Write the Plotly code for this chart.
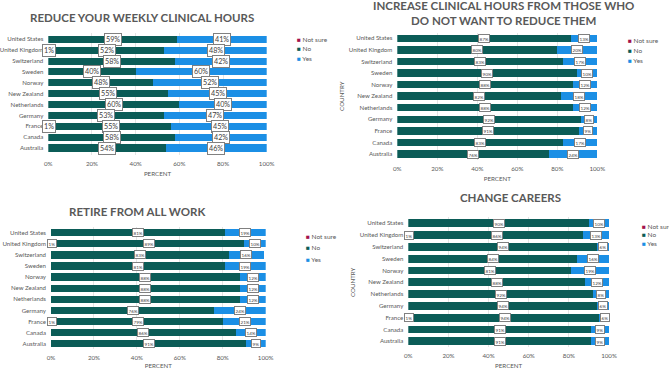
import plotly.graph_objects as go

countries = ["United States", "United Kingdom", "Switzerland", "Sweden", "Norway",
             "New Zealand", "Netherlands", "Germany", "France", "Canada", "Australia"]
series_names = ["Not sure", "No", "Yes"]
tick_vals = [0, 20, 40, 60, 80, 100]
tick_text = ["0%", "20%", "40%", "60%", "80%", "100%"]

reduce_notsure = [0, 1, 0, 0, 0, 0, 0, 0, 1, 0, 0]
reduce_no = [59, 52, 58, 40, 48, 55, 60, 53, 55, 58, 54]
reduce_yes = [41, 48, 42, 60, 52, 45, 40, 47, 45, 42, 46]

increase_notsure = [0, 0, 0, 0, 0, 0, 0, 0, 0, 0, 0]
increase_no = [87, 80, 83, 90, 88, 82, 88, 92, 91, 83, 76]
increase_yes = [13, 20, 17, 10, 12, 18, 12, 8, 9, 17, 24]

retire_notsure = [0, 1, 0, 0, 0, 0, 0, 0, 1, 0, 0]
retire_no = [81, 89, 83, 81, 88, 88, 88, 76, 79, 86, 91]
retire_yes = [19, 10, 16, 19, 12, 12, 12, 24, 21, 14, 9]

careers_notsure = [0, 1, 0, 0, 0, 0, 0, 0, 1, 0, 0]
careers_no = [90, 86, 94, 84, 81, 88, 92, 94, 94, 91, 91]
careers_yes = [10, 13, 6, 16, 19, 12, 8, 6, 6, 9, 9]

titles = ["REDUCE YOUR WEEKLY CLINICAL HOURS",
          "INCREASE CLINICAL HOURS FROM THOSE WHO<br>DO NOT WANT TO REDUCE THEM",
          "RETIRE FROM ALL WORK",
          "CHANGE CAREERS"]

COLORS = {"Not sure": "#a3124d", "No": "#0b5c57", "Yes": "#1b8fe5"}
GRAY = "#595959"
FONT = "Lato"
W, H = 669, 369

panels = [
    dict(data=[reduce_notsure, reduce_no, reduce_yes], x=(48.3, 266.7), y=(32.8, 154.5),
         title=(142, 17), leg=(295, 39.3, 9.5), lab=7.2, country=False),
    dict(data=[increase_notsure, increase_no, increase_yes], x=(397.3, 597.3), y=(32.5, 159.8),
         title=(503, 13), leg=(626, 40.3, 9.9), lab=4.6, country=True),
    dict(data=[retire_notsure, retire_no, retire_yes], x=(51, 265.7), y=(227.2, 349.2),
         title=(137, 211.7), leg=(304, 236, 11.7), lab=4.6, country=False),
    dict(data=[careers_notsure, careers_no, careers_yes], x=(408.3, 609), y=(217.4, 347.2),
         title=(511, 197.7), leg=(640, 226.3, 8.4), lab=4.6, country=True),
]

fig = go.Figure()
annotations = []
layout = {}
for i, p in enumerate(panels):
    n = i + 1
    sfx = "" if n == 1 else str(n)
    xa, ya = "x" + sfx, "y" + sfx
    for name, vals in zip(series_names, p["data"]):
        fig.add_trace(go.Bar(y=countries, x=vals, orientation="h", name=name,
                             marker=dict(color=COLORS[name], line=dict(width=0)),
                             xaxis=xa, yaxis=ya, showlegend=False))
    # data labels
    for j, c in enumerate(countries):
        start = 0
        for vals in p["data"]:
            v = vals[j]
            if v > 0:
                annotations.append(dict(
                    x=start + v / 2, y=c, xref=xa, yref=ya, text=f"{v}%", showarrow=False,
                    font=dict(family=FONT, size=p["lab"], color="#404040"),
                    bgcolor="white", bordercolor="#808080", borderwidth=1,
                    borderpad=1 if p["lab"] > 6 else 0.5))
            start += v
    layout["xaxis" + sfx] = dict(
        domain=[p["x"][0] / W, p["x"][1] / W], anchor=ya, range=[0, 100],
        tickvals=tick_vals, ticktext=tick_text, showgrid=True, gridcolor="#e4e4e4",
        gridwidth=1, zeroline=False, showline=False, ticks="", ticklabelstandoff=4,
        tickfont=dict(family=FONT, size=6.2, color=GRAY), automargin=False,
        title=dict(text="PERCENT", font=dict(family=FONT, size=6.2, color=GRAY), standoff=5))
    layout["yaxis" + sfx] = dict(
        domain=[1 - p["y"][1] / H, 1 - p["y"][0] / H], anchor=xa,
        categoryorder="array", categoryarray=countries[::-1], showgrid=False,
        zeroline=False, showline=False, ticks="", ticklabelstandoff=4,
        tickfont=dict(family=FONT, size=6.1, color=GRAY), automargin=False,
        title=dict(text="COUNTRY" if p["country"] else "",
                   font=dict(family=FONT, size=6.2, color=GRAY), standoff=3))
    # title
    annotations.append(dict(x=p["title"][0] / W, y=1 - p["title"][1] / H, xref="paper", yref="paper",
                            text=titles[i], showarrow=False, xanchor="center", yanchor="middle",
                            font=dict(family=FONT, size=11.5, color=GRAY, weight="bold")))
    # legend
    lx, ly, dy = p["leg"]
    for k, name in enumerate(series_names):
        annotations.append(dict(
            x=lx / W, y=1 - (ly + k * dy) / H, xref="paper", yref="paper",
            text=f"<span style='color:{COLORS[name]}'>■</span> {name}",
            showarrow=False, xanchor="left", yanchor="middle",
            font=dict(family=FONT, size=6.5, color=GRAY)))

fig.update_layout(
    width=W, height=H, margin=dict(l=0, r=0, t=0, b=0),
    barmode="stack", bargap=0.35, plot_bgcolor="white", paper_bgcolor="white",
    annotations=annotations, **layout)

fig.write_html("out.html", config={"displayModeBar": False},
               post_script="document.body.style.margin='0';")
